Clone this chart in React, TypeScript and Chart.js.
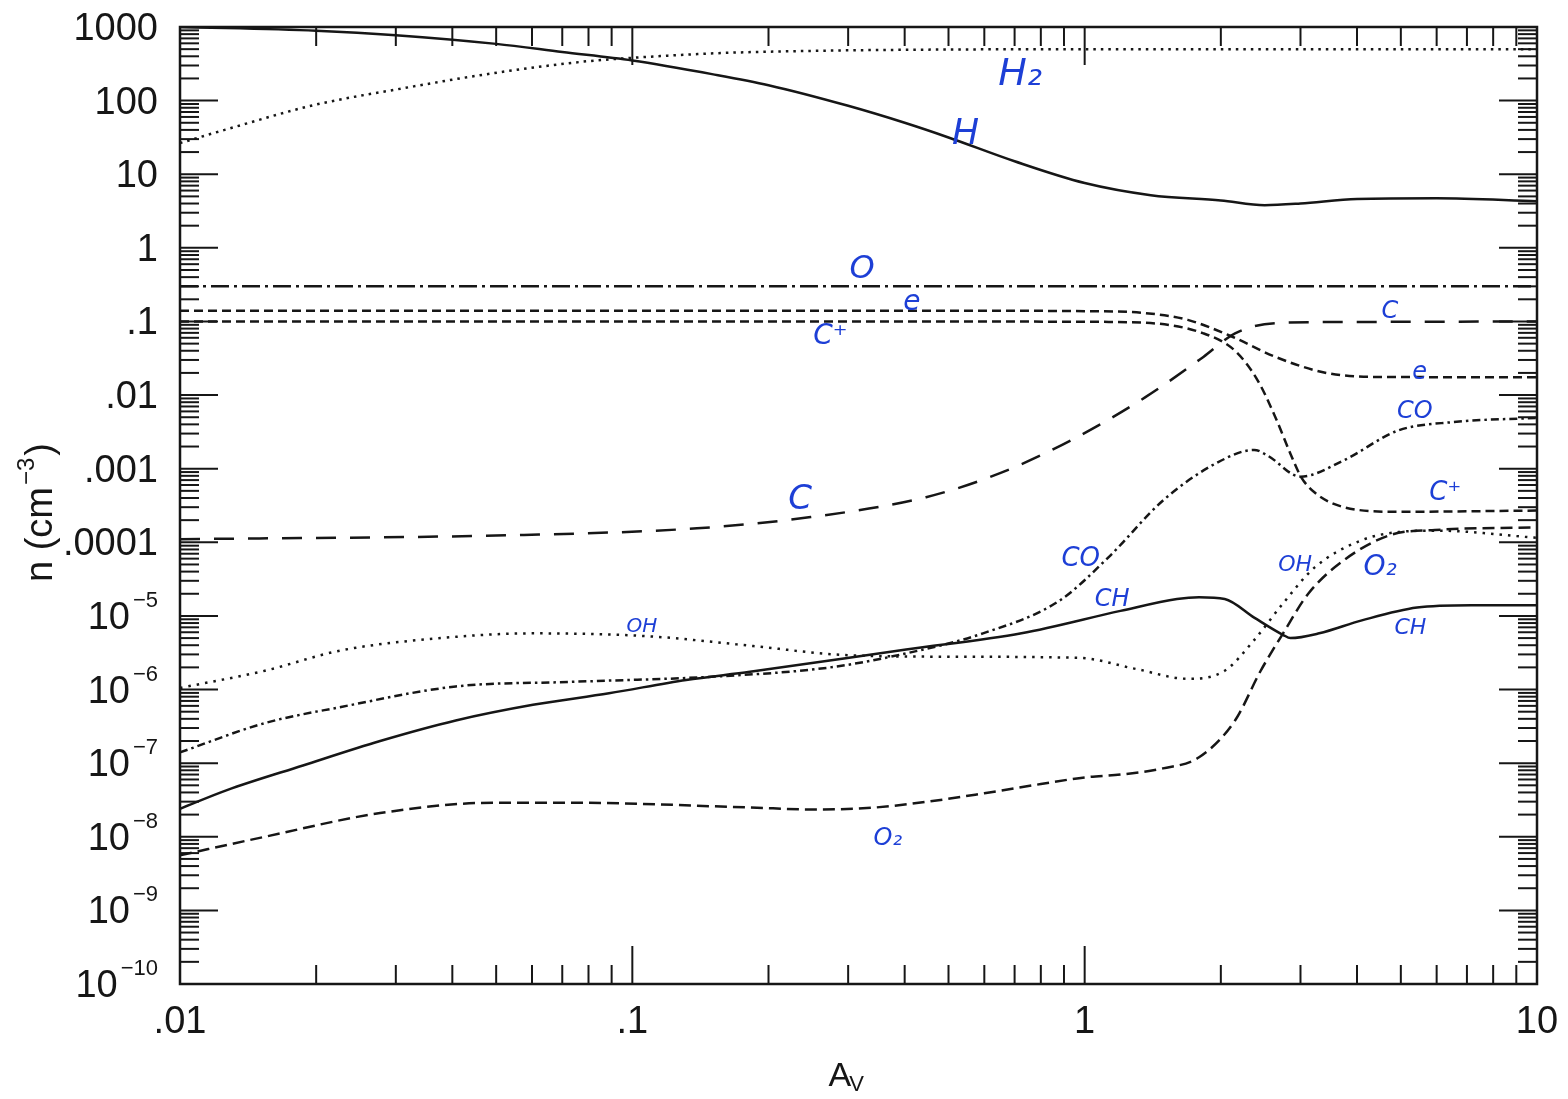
import React, { useEffect, useRef } from "react";
import { Chart, registerables } from "chart.js";

Chart.register(...registerables);

// ---- data (A_V, n in cm^-3) ----
const hAv = [0.01, 0.02, 0.03, 0.05, 0.07, 0.1, 0.15, 0.2, 0.3, 0.4, 0.5, 0.7, 1.0, 1.4, 2.0, 2.5, 3.0, 4.0, 6.0, 10];
const hN = [1000, 890, 775, 590, 457, 350, 229, 162, 85, 50, 31.6, 15, 7.6, 5.2, 4.4, 3.8, 4.0, 4.6, 4.7, 4.3];

const h2Av = [0.01, 0.01255, 0.01978, 0.0311, 0.0491, 0.0774, 0.0968, 0.153, 0.241, 0.353, 0.6, 1, 10];
const h2N = [26.5, 40, 87, 147, 235, 337, 376, 440, 472, 487, 497, 500, 500];

const oAv = [0.01, 10];
const oN = [0.3, 0.3];

const eAv = [0.01, 0.5, 1.0, 1.36, 1.69, 2.12, 2.64, 3.42, 4.5, 10];
const eN = [0.14, 0.14, 0.138, 0.13, 0.105, 0.062, 0.033, 0.02, 0.0176, 0.0175];

const cpAv = [0.01, 0.5, 1.0, 1.36, 1.83, 2.15, 2.41, 2.64, 2.85, 3.01, 3.23, 3.74, 4.93, 10];
const cpN = [0.1, 0.1, 0.099, 0.096, 0.069, 0.04, 0.016, 0.005, 0.0016, 0.00077, 0.00047, 0.0003, 0.00026, 0.00027];

const cAv = [0.01, 0.0576, 0.139, 0.248, 0.446, 0.65, 0.935, 1.36, 1.83, 2.15, 2.64, 3.42, 10];
const cN = [1.1e-4, 1.26e-4, 1.55e-4, 2.2e-4, 4.1e-4, 8.7e-4, 2.45e-3, 9.3e-3, 0.033, 0.069, 0.095, 0.098, 0.1];

const coAv = [0.01, 0.0154, 0.0227, 0.0407, 0.0732, 0.152, 0.274, 0.403, 0.596, 0.878, 1.13, 1.49, 1.96, 2.37, 2.54, 3.0, 3.74, 4.93, 6.53, 10];
const coN = [1.4e-7, 3.5e-7, 5.8e-7, 1.1e-6, 1.27e-6, 1.5e-6, 2.0e-6, 3.1e-6, 5.8e-6, 1.6e-5, 6.3e-5, 3.7e-4, 1.2e-3, 1.8e-3, 1.5e-3, 7.8e-4, 1.3e-3, 3.3e-3, 4.3e-3, 4.9e-3];

const ohAv = [0.01, 0.0154, 0.0227, 0.0407, 0.0603, 0.108, 0.185, 0.28, 0.45, 0.967, 1.3, 1.69, 2.04, 2.37, 2.75, 3.23, 4.1, 4.95, 6.0, 10];
const ohN = [1.05e-6, 1.8e-6, 3.4e-6, 5.2e-6, 5.8e-6, 5.3e-6, 3.9e-6, 3.0e-6, 2.8e-6, 2.7e-6, 1.9e-6, 1.4e-6, 1.8e-6, 4.7e-6, 1.5e-5, 4.6e-5, 1.07e-4, 1.38e-4, 1.44e-4, 1.15e-4];

const o2Av = [0.01, 0.0154, 0.0277, 0.0494, 0.0732, 0.182, 0.25, 0.33, 0.45, 0.6, 0.8, 1.0, 1.2, 1.49, 1.79, 2.15, 2.45, 2.75, 3.12, 3.74, 4.75, 5.95, 10];
const o2N = [5.6e-9, 1.0e-8, 2.1e-8, 2.9e-8, 2.9e-8, 2.5e-8, 2.35e-8, 2.45e-8, 3.0e-8, 3.9e-8, 5.2e-8, 6.4e-8, 7.0e-8, 8.5e-8, 1.2e-7, 3.8e-7, 1.8e-6, 5.9e-6, 2.0e-5, 5.7e-5, 1.26e-4, 1.47e-4, 1.6e-4];

const chAv = [0.01, 0.0127, 0.0187, 0.0277, 0.0407, 0.0603, 0.0888, 0.1315, 0.182, 0.403, 0.725, 1.2, 1.6, 1.79, 2.04, 2.37, 2.75, 2.85, 3.3, 4.1, 5.43, 7.15, 10];
const chN = [2.4e-8, 4.3e-8, 9.3e-8, 2.0e-7, 3.8e-7, 6.2e-7, 8.9e-7, 1.35e-6, 1.74e-6, 3.5e-6, 5.8e-6, 1.17e-5, 1.7e-5, 1.8e-5, 1.7e-5, 9.5e-6, 5.5e-6, 5.0e-6, 5.8e-6, 8.7e-6, 1.3e-5, 1.4e-5, 1.4e-5];

// ---- axis tick labels ----
const xTickValues = [0.01, 0.1, 1, 10];
const xTickLabels = [".01", ".1", "1", "10"];
const yTickValues = [1000, 100, 10, 1, 0.1, 0.01, 0.001, 0.0001, 1e-5, 1e-6, 1e-7, 1e-8, 1e-9, 1e-10];
const yTickBase = ["1000", "100", "10", "1", ".1", ".01", ".001", ".0001", "10", "10", "10", "10", "10", "10"];
const yTickSup = ["", "", "", "", "", "", "", "", "\u22125", "\u22126", "\u22127", "\u22128", "\u22129", "\u221210"];

// ---- handwritten curve labels ----
const labelTexts = ["H\u2082", "H", "O", "e", "C\u207A", "C", "C", "e", "CO", "C\u207A", "CO", "CH", "OH", "O\u2082", "CH", "OH", "O\u2082"];
const labelAv = [0.72, 0.545, 0.322, 0.415, 0.274, 0.235, 4.73, 5.5, 5.37, 6.27, 0.98, 1.15, 2.92, 4.5, 5.25, 0.105, 0.367];
const labelN = [223, 34, 0.5, 0.178, 0.062, 3.7e-4, 0.135, 0.0204, 5.9e-3, 4.7e-4, 5.8e-5, 1.64e-5, 4.8e-5, 4.5e-5, 6.8e-6, 7.1e-6, 9.5e-9];
const labelSizes = [38, 36, 32, 28, 28, 34, 24, 24, 24, 26, 26, 24, 22, 28, 22, 20, 24];

const FONT = "'Liberation Sans', Arial, Helvetica, sans-serif";
const INK = "#161616";
const BLUE = "#1d3fd6";

function pts(xs: number[], ys: number[]) {
  return xs.map((x, i) => ({ x, y: ys[i] }));
}

const series = [
  { name: "H", av: hAv, n: hN, dash: [] as number[] },
  { name: "H2", av: h2Av, n: h2N, dash: [2.5, 5] },
  { name: "O", av: oAv, n: oN, dash: [18, 5, 3, 5] },
  { name: "e", av: eAv, n: eN, dash: [9, 5] },
  { name: "C+", av: cpAv, n: cpN, dash: [9, 5] },
  { name: "C", av: cAv, n: cN, dash: [20, 14] },
  { name: "CO", av: coAv, n: coN, dash: [8, 4, 2.5, 4] },
  { name: "OH", av: ohAv, n: ohN, dash: [2.5, 6] },
  { name: "O2", av: o2Av, n: o2N, dash: [12, 6] },
  { name: "CH", av: chAv, n: chN, dash: [] as number[] },
];

const framePlugin = {
  id: "frame",
  afterDraw(chart: any) {
    const { ctx, chartArea: a, scales } = chart;
    const xs = scales.x;
    const ys = scales.y;
    ctx.save();
    ctx.strokeStyle = INK;
    ctx.lineWidth = 2;
    ctx.setLineDash([]);
    const seg = (x1: number, y1: number, x2: number, y2: number) => {
      ctx.beginPath();
      ctx.moveTo(x1, y1);
      ctx.lineTo(x2, y2);
      ctx.stroke();
    };
    // y ticks (both sides, inward)
    for (let e = -10; e <= 3; e++) {
      for (let m = 1; m <= 9; m++) {
        const v = m * Math.pow(10, e);
        if (v > 1000.01) break;
        const py = ys.getPixelForValue(v);
        const len = m === 1 ? 38 : 19;
        seg(a.left, py, a.left + len, py);
        seg(a.right, py, a.right - len, py);
      }
    }
    // x ticks (top and bottom, inward)
    for (let e = -2; e <= 1; e++) {
      for (let m = 1; m <= 9; m++) {
        const v = m * Math.pow(10, e);
        if (v > 10.001) break;
        const px = xs.getPixelForValue(v);
        const len = m === 1 ? 38 : 19;
        seg(px, a.bottom, px, a.bottom - len);
        seg(px, a.top, px, a.top + len);
      }
    }
    // frame
    ctx.lineWidth = 2.5;
    ctx.strokeRect(a.left, a.top, a.right - a.left, a.bottom - a.top);

    // y tick labels
    ctx.fillStyle = INK;
    ctx.textAlign = "right";
    ctx.textBaseline = "alphabetic";
    const rightEdge = 158;
    yTickValues.forEach((v, i) => {
      const py = ys.getPixelForValue(v);
      const sup = yTickSup[i];
      if (sup) {
        ctx.font = `22px ${FONT}`;
        const w = ctx.measureText(sup).width;
        ctx.fillText(sup, rightEdge, py - 9);
        ctx.font = `38px ${FONT}`;
        ctx.fillText(yTickBase[i], rightEdge - w - 3, py + 13);
      } else {
        ctx.font = `38px ${FONT}`;
        ctx.fillText(yTickBase[i], rightEdge, py + 13);
      }
    });

    // x tick labels
    ctx.textAlign = "center";
    ctx.font = `38px ${FONT}`;
    xTickValues.forEach((v, i) => {
      const px = xs.getPixelForValue(v);
      ctx.fillText(xTickLabels[i], px, a.bottom + 49);
    });

    // x title: A_V
    ctx.textAlign = "left";
    ctx.font = `34px ${FONT}`;
    const aW = ctx.measureText("A").width;
    const titleX = (a.left + a.right) / 2 - 30;
    ctx.fillText("A", titleX, 1086);
    ctx.font = `22px ${FONT}`;
    ctx.fillText("V", titleX + aW - 2, 1091);

    // y title: n (cm^-3)
    ctx.save();
    ctx.translate(52, 582);
    ctx.rotate(-Math.PI / 2);
    ctx.textAlign = "left";
    ctx.font = `38px ${FONT}`;
    const t1 = "n (cm";
    ctx.fillText(t1, 0, 0);
    let off = ctx.measureText(t1).width + 2;
    ctx.font = `24px ${FONT}`;
    ctx.fillText("\u22123", off, -18);
    off += ctx.measureText("\u22123").width + 2;
    ctx.font = `38px ${FONT}`;
    ctx.fillText(")", off, 0);
    ctx.restore();

    // handwritten labels
    ctx.fillStyle = BLUE;
    ctx.textAlign = "center";
    ctx.textBaseline = "middle";
    labelTexts.forEach((t, i) => {
      const px = xs.getPixelForValue(labelAv[i]);
      const py = ys.getPixelForValue(labelN[i]);
      ctx.font = `italic ${labelSizes[i]}px 'DejaVu Sans', sans-serif`;
      ctx.fillText(t, px, py);
    });
    ctx.restore();
  },
};

export default function App() {
  const ref = useRef<HTMLCanvasElement | null>(null);
  useEffect(() => {
    if (!ref.current) return;
    const chart = new Chart(ref.current, {
      type: "line",
      data: {
        datasets: series.map((s) => ({
          label: s.name,
          data: pts(s.av, s.n),
          borderColor: INK,
          borderWidth: 2.5,
          borderDash: s.dash,
          pointRadius: 0,
          fill: false,
          cubicInterpolationMode: "monotone" as const,
        })),
      },
      options: {
        responsive: false,
        animation: false,
        devicePixelRatio: 1,
        layout: { padding: { top: 27, right: 31, left: 0, bottom: 0 } },
        plugins: { legend: { display: false }, tooltip: { enabled: false } },
        scales: {
          x: {
            type: "logarithmic",
            min: 0.01,
            max: 10,
            grid: { display: false },
            border: { display: false },
            ticks: { display: false },
            afterFit: (s: any) => {
              s.height = 115;
            },
          },
          y: {
            type: "logarithmic",
            min: 1e-10,
            max: 1000,
            grid: { display: false },
            border: { display: false },
            ticks: { display: false },
            afterFit: (s: any) => {
              s.width = 180;
            },
          },
        },
      },
      plugins: [framePlugin],
    });
    return () => chart.destroy();
  }, []);
  return (
    <div style={{ position: "absolute", left: 0, top: 0, width: 1568, height: 1099, background: "#fff" }}>
      <canvas ref={ref} width={1568} height={1099} />
    </div>
  );
}
